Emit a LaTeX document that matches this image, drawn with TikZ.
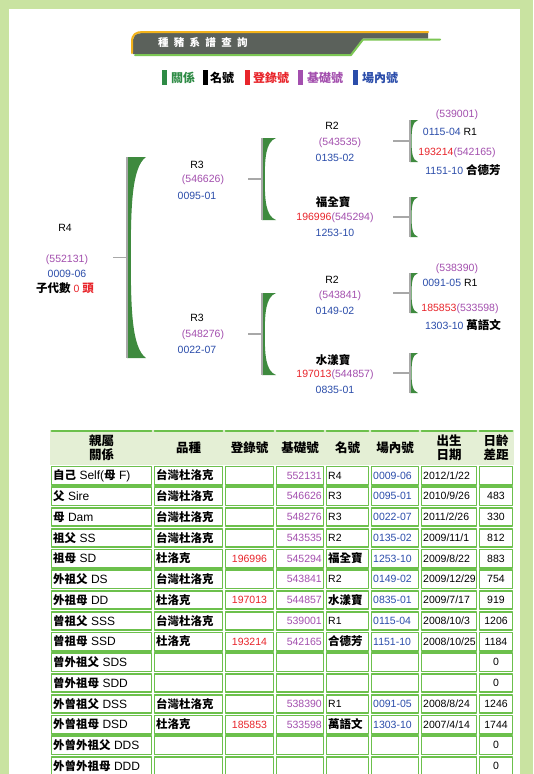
\documentclass[tikz,border=0pt]{standalone}
\usepackage{fontspec}
\setmainfont{Liberation Sans}
\newfontfamily\cjk{Noto Sans CJK TC}
\newcommand\zh[1]{{\cjk\bfseries\fontsize{11.5}{12}\selectfont #1}}
\definecolor{framec}{HTML}{C9E3A1}
\definecolor{bannerc}{HTML}{5B615B}
\definecolor{bannery}{HTML}{F2B21B}
\definecolor{bannerg}{HTML}{7CC654}
\definecolor{relc}{HTML}{2E8B45}
\definecolor{regc}{HTML}{E8252B}
\definecolor{basec}{HTML}{A34FAE}
\definecolor{farmc}{HTML}{2B4DAA}
\definecolor{brkc}{HTML}{3E8A3E}
\definecolor{stubc}{HTML}{A8A8A8}
\definecolor{cellc}{HTML}{6CC04C}
\definecolor{headc}{HTML}{E4EFD5}
% x, top, bottom, width
\newcommand\pedbracket[4]{%
  \fill[brkc] (#1,#2) -- ({#1+#4},#2)
    .. controls ({#1+0.25*#4},{#2+0.05*(#3-#2)}) and ({#1+0.2*#4},{#2+0.25*(#3-#2)}) .. ({#1+0.2*#4},{(#2+#3)/2})
    .. controls ({#1+0.2*#4},{#3-0.25*(#3-#2)}) and ({#1+0.25*#4},{#3-0.05*(#3-#2)}) .. ({#1+#4},#3)
    -- (#1,#3) -- cycle;
  \draw[stubc, line width=1.5pt, line cap=butt] (#1,#2) -- (#1,#3);}
\tikzset{
  txt/.style={inner sep=0pt},
  stub/.style={draw=stubc, line width=1.5pt, line cap=butt},
  cell/.style={draw=cellc, line width=1.6pt, fill=white},
  legend/.style={inner sep=0pt, anchor=west, font=\cjk\bfseries\fontsize{12}{13}\selectfont},
  head/.style={inner sep=0pt, align=center, font=\cjk\bfseries\fontsize{12.5}{14}\selectfont},
  title/.style={inner sep=0pt, text=white, font=\cjk\bfseries\fontsize{10.5}{11}\selectfont},
}
\begin{document}
\begin{tikzpicture}[x=1pt, y=-1pt, line join=round, line cap=round, font=\fontsize{10.5}{12}\selectfont]
	\useasboundingbox (0,0) rectangle (533,774);
	\fill[framec] (0,0) rectangle (533,774);
	\fill[white] (9,9) rectangle (520,774);
	
	% banner
	\fill[bannerc] (133,54) -- (133,42) .. controls (133,35) and (136,33) .. (143,33) -- (428,33) -- (428,38.5) -- (363,38.5) -- (351,54) -- cycle;
	\draw[bannery, line width=2pt] (132,53) -- (132,42) .. controls (132,34) and (136,32) .. (143,32) -- (428,32);
	\draw[bannerg, line width=2pt] (135,55) -- (351,55) -- (363,39.5) -- (440,39.5);
	\foreach \c [count=\i] in {種,豬,系,譜,查,詢}
		\node[title] (t\i) at ({147.5+15.8*\i},42.5) {\c};
	
	% legend
	\fill[relc] (161.5,70) rectangle (166.5,85);
	\node[legend, text=relc] (lrel) at (171,77.5) {關係};
	\fill[black] (203,70) rectangle (208,85);
	\node[legend] (lname) at (210,77.5) {名號};
	\fill[regc] (245,70) rectangle (250,85);
	\node[legend, text=regc] (lreg) at (253,77.5) {登錄號};
	\fill[basec] (298,70) rectangle (303,85);
	\node[legend, text=basec] (lbase) at (307,77.5) {基礎號};
	\fill[farmc] (353,70) rectangle (358,85);
	\node[legend, text=farmc] (lfarm) at (362,77.5) {場內號};
	
	% tree
	\node[txt] (self) at (65,228) {R4};
	\node[txt, text=basec] (selfb) at (67,260) {(552131)};
	\node[txt, text=farmc] (selff) at (67,274) {0009-06};
	\node[txt] (selfk) at (65,288) {\zh{子代數} {\color{regc}0 \zh{頭}}};
	
	\node[txt] (sire) at (197,165) {R3};
	\node[txt, text=basec] (sireb) at (203,180) {(546626)};
	\node[txt, text=farmc] (siref) at (197,196) {0095-01};
	\node[txt] (dam) at (197,318) {R3};
	\node[txt, text=basec] (damb) at (203,335) {(548276)};
	\node[txt, text=farmc] (damf) at (197,350) {0022-07};
	
	\node[txt] (ss) at (332,126) {R2};
	\node[txt, text=basec] (ssb) at (340,143) {(543535)};
	\node[txt, text=farmc] (ssf) at (335,158) {0135-02};
	\node[txt] (sd) at (333,202) {\zh{福全寶}};
	\node[txt] (sdb) at (335,218) {{\color{regc}196996}{\color{basec}(545294)}};
	\node[txt, text=farmc] (sdf) at (335,233) {1253-10};
	\node[txt] (ds) at (332,280) {R2};
	\node[txt, text=basec] (dsb) at (340,296) {(543841)};
	\node[txt, text=farmc] (dsf) at (335,311) {0149-02};
	\node[txt] (dd) at (333,360) {\zh{水漾寶}};
	\node[txt] (ddb) at (335,375) {{\color{regc}197013}{\color{basec}(544857)}};
	\node[txt, text=farmc] (ddf) at (335,390) {0835-01};
	
	\node[txt, text=basec] (sss) at (457,115) {(539001)};
	\node[txt] (sssf) at (450,132) {{\color{farmc}0115-04} R1};
	\node[txt] (ssd) at (457,153) {{\color{regc}193214}{\color{basec}(542165)}};
	\node[txt] (ssdf) at (463,170) {{\color{farmc}1151-10} \zh{合德芳}};
	\node[txt, text=basec] (dss) at (457,269) {(538390)};
	\node[txt] (dssf) at (450,283) {{\color{farmc}0091-05} R1};
	\node[txt] (dsd) at (460,309) {{\color{regc}185853}{\color{basec}(533598)}};
	\node[txt] (dsdf) at (463,325) {{\color{farmc}1303-10} \zh{萬語文}};
	
	\path
	(113,257.5) coordinate (s0) (127,257.5) coordinate (b0)
	(248,179) coordinate (s1) (262,179) coordinate (b1)
	(248,334) coordinate (s2) (262,334) coordinate (b2)
	(393,141) coordinate (s3) (410,141) coordinate (b3)
	(393,217) coordinate (s4) (410,217) coordinate (b4)
	(393,293) coordinate (s5) (410,293) coordinate (b5)
	(393,373) coordinate (s6) (410,373) coordinate (b6)
	;
	\foreach \k in {0,...,6} \draw[stub] (s\k) -- (b\k);
	\pedbracket{127}{157}{358}{19}
	\pedbracket{262}{138}{220}{14}
	\pedbracket{262}{293}{375}{14}
	\pedbracket{410}{120}{162}{8}
	\pedbracket{410}{197}{237}{8}
	\pedbracket{410}{273}{313}{8}
	\pedbracket{410}{353}{393}{8}
	
	% table
	\fill[headc] (50,430) rectangle (514,465);
	\foreach \xa/\xb in {50/153,153/224,224/275,275/325,325/370,370/420,420/478,478/514}{
		\draw[cellc, line width=1.6pt] ({\xa+1.5},431) -- ({\xb-1.5},431);
		\foreach \r in {0,...,14}
			\draw[cell] ({\xa+1.5},{466.5+\r*20.75}) rectangle ({\xb-1.5},{464+(\r+1)*20.75});
	}
	\node[head] (hrel) at (101.5,448) {親屬\\關係};
	\node[head] (hbreed) at (188.5,448) {品種};
	\node[head] (hreg) at (249.5,448) {登錄號};
	\node[head] (hbase) at (300,448) {基礎號};
	\node[head] (hname) at (347.5,448) {名號};
	\node[head] (hfarm) at (395,448) {場內號};
	\node[head] (hborn) at (449,448) {出生\\日期};
	\node[head] (hage) at (496,448) {日齡\\差距};
	
	\foreach \rel/\breed/\reg/\base/\name/\farm/\born/\age [count=\r from 0] in {
		{\zh{自己} Self(\zh{母} F)}/\zh{台灣杜洛克}/{}/552131/R4/0009-06/{2012/1/22}/{},
		{\zh{父} Sire}/\zh{台灣杜洛克}/{}/546626/R3/0095-01/{2010/9/26}/483,
		{\zh{母} Dam}/\zh{台灣杜洛克}/{}/548276/R3/0022-07/{2011/2/26}/330,
		{\zh{祖父} SS}/\zh{台灣杜洛克}/{}/543535/R2/0135-02/{2009/11/1}/812,
		{\zh{祖母} SD}/\zh{杜洛克}/196996/545294/\zh{福全寶}/1253-10/{2009/8/22}/883,
		{\zh{外祖父} DS}/\zh{台灣杜洛克}/{}/543841/R2/0149-02/{2009/12/29}/754,
		{\zh{外祖母} DD}/\zh{杜洛克}/197013/544857/\zh{水漾寶}/0835-01/{2009/7/17}/919,
		{\zh{曾祖父} SSS}/\zh{台灣杜洛克}/{}/539001/R1/0115-04/{2008/10/3}/1206,
		{\zh{曾祖母} SSD}/\zh{杜洛克}/193214/542165/\zh{合德芳}/1151-10/{2008/10/25}/1184,
		{\zh{曾外祖父} SDS}/{}/{}/{}/{}/{}/{}/0,
		{\zh{曾外祖母} SDD}/{}/{}/{}/{}/{}/{}/0,
		{\zh{外曾祖父} DSS}/\zh{台灣杜洛克}/{}/538390/R1/0091-05/{2008/8/24}/1246,
		{\zh{外曾祖母} DSD}/\zh{杜洛克}/185853/533598/\zh{萬語文}/1303-10/{2007/4/14}/1744,
		{\zh{外曾外祖父} DDS}/{}/{}/{}/{}/{}/{}/0,
		{\zh{外曾外祖母} DDD}/{}/{}/{}/{}/{}/{}/0}{
		\pgfmathsetmacro\yc{475.4+\r*20.75}
		\node[txt, anchor=west, font=\fontsize{12}{13}\selectfont] (rel\r) at (53,\yc) {\rel};
		\node[txt, anchor=west] (breed\r) at (156,\yc) {\breed};
		\node[txt, text=regc] (reg\r) at (249.5,\yc) {\reg};
		\node[txt, anchor=east, text=basec] (base\r) at (322,\yc) {\base};
		\node[txt, anchor=west] (name\r) at (328,\yc) {\name};
		\node[txt, anchor=west, text=farmc] (farm\r) at (373,\yc) {\farm};
		\node[txt, anchor=west] (born\r) at (423,\yc) {\born};
		\node[txt] (age\r) at (496,\yc) {\age};
	}
\end{tikzpicture}
\end{document}
